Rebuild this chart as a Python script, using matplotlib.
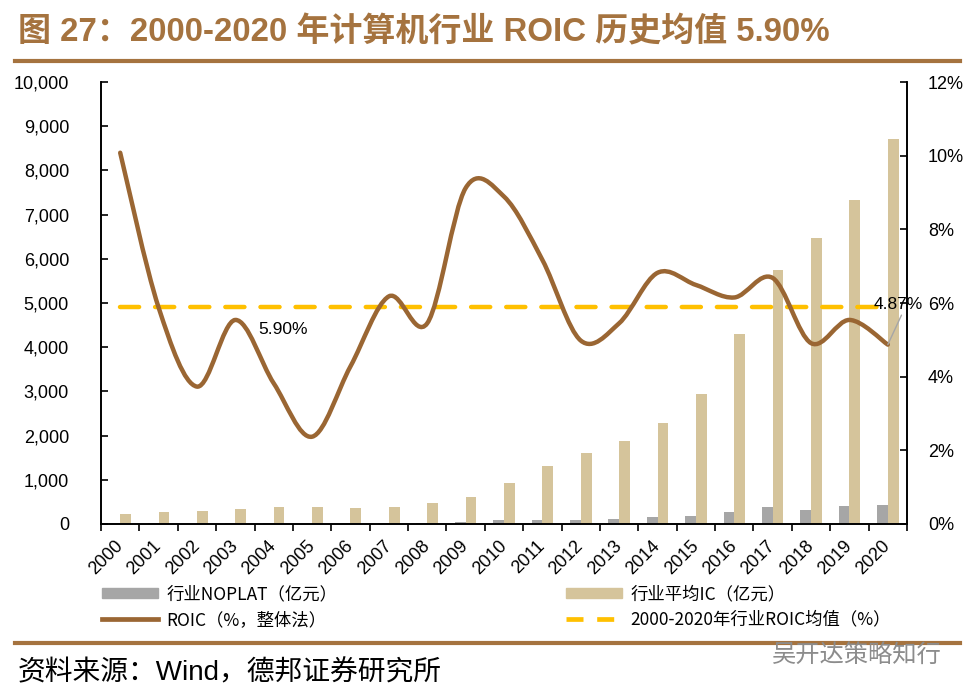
import numpy as np
import matplotlib
matplotlib.use("Agg")
import matplotlib.pyplot as plt
from matplotlib.path import Path
from matplotlib.patches import PathPatch, Patch
from matplotlib.lines import Line2D

plt.rcParams['font.family'] = ['Liberation Sans', 'Noto Sans CJK SC', 'DejaVu Sans']

years = [str(y) for y in range(2000, 2021)]
noplat = [22, 16, 11, 19, 14, 9, 16, 24, 26, 56, 82, 92, 80, 103, 157, 190, 262, 380, 318, 400, 425]
ic = [220, 270, 290, 340, 380, 380, 355, 395, 475, 605, 925, 1320, 1615, 1870, 2285, 2940, 4290, 5750, 6470, 7330, 8710]
roic = [10.08, 5.88, 3.73, 5.54, 3.82, 2.37, 4.28, 6.18, 5.45, 9.12, 8.89, 7.17, 4.98, 5.45, 6.82, 6.49, 6.15, 6.68, 4.91, 5.54, 4.87]
roic_mean = 5.90
left_ticks = [0, 1000, 2000, 3000, 4000, 5000, 6000, 7000, 8000, 9000, 10000]
right_ticks = [0, 2, 4, 6, 8, 10, 12]

title = "图 27：2000-2020 年计算机行业 ROIC 历史均值 5.90%"
source = "资料来源：Wind，德邦证券研究所"
watermark = "吴开达策略知行"
leg_labels = ["行业NOPLAT（亿元）", "ROIC（%，整体法）", "行业平均IC（亿元）", "2000-2020年行业ROIC均值（%）"]

C_GRAY = "#A6A6A6"
C_TAN = "#D5C49B"
C_BROWN = "#9A6633"
C_YEL = "#FFC000"
C_TITLE = "#A5733F"

fig = plt.figure(figsize=(9.71, 6.97), dpi=100)
ax = fig.add_axes([101/971, 1-524/697, (907-101)/971, (524-82)/697])
ax2 = ax.twinx()

x = np.arange(len(years))
w = 0.28
ax.bar(x - w/2, noplat, width=w, color=C_GRAY, zorder=2)
ax.bar(x + w/2, ic, width=w, color=C_TAN, zorder=2)

ax.set_xlim(-0.5, len(years) - 0.5)
ax.set_ylim(0, 10000)
ax2.set_ylim(0, 12)
ax.set_yticks(left_ticks)
ax.set_yticklabels([f"{v:,}" for v in left_ticks], fontsize=13)
ax2.set_yticks(right_ticks)
ax2.set_yticklabels([f"{v}%" for v in right_ticks], fontsize=13)
ax.tick_params(axis='y', direction='in', length=5, width=1.2, pad=23)
ax2.tick_params(axis='y', direction='in', length=5, width=1.2, pad=15)

ax.set_xticks(x)
ax.set_xticklabels(years, fontsize=13, rotation=45, ha='right', va='center', rotation_mode='anchor')
ax.set_xticks(np.arange(-0.5, len(years)), minor=True)
ax.tick_params(axis='x', which='major', length=0, pad=14)
ax.tick_params(axis='x', which='minor', direction='out', length=5, width=1.2)

for a in (ax, ax2):
    a.spines['top'].set_visible(False)
    for s in ('left', 'right', 'bottom'):
        a.spines[s].set_linewidth(1.2)
        a.spines[s].set_color('black')

# smoothed ROIC line (Bezier through the data points)
px = list(x.astype(float))
py = list(roic)
n = len(px)
verts = [(px[0], py[0])]
codes = [Path.MOVETO]
for i in range(n - 1):
    i0 = max(i - 1, 0)
    i3 = min(i + 2, n - 1)
    c1 = (px[i] + (px[i+1] - px[i0]) / 6, py[i] + (py[i+1] - py[i0]) / 6)
    c2 = (px[i+1] - (px[i3] - px[i]) / 6, py[i+1] - (py[i3] - py[i]) / 6)
    verts += [c1, c2, (px[i+1], py[i+1])]
    codes += [Path.CURVE4] * 3
ax2.add_patch(PathPatch(Path(verts, codes), facecolor='none', edgecolor=C_BROWN,
                        lw=3.2, capstyle='round', joinstyle='round', zorder=4))

ax2.plot([0, len(years) - 1], [roic_mean, roic_mean], color=C_YEL, lw=3.2,
         dashes=(4.3, 3.6), dash_capstyle='round', zorder=3)

ax2.text(3.6, 5.27, f"{roic_mean:.2f}%", fontsize=12.5, ha='left', va='center', zorder=5)
ax2.annotate(f"{roic[-1]:.2f}%", xy=(20, roic[-1]), xytext=(19.62, 5.95),
             fontsize=12.5, ha='left', va='center', zorder=5,
             arrowprops=dict(arrowstyle='-', color='#A6A6A6', lw=1,
                             shrinkA=0, shrinkB=0,
                             relpos=(0.6, 0.0)))

handles = [Patch(color=C_GRAY), Line2D([], [], color=C_BROWN, lw=3.4),
           Patch(color=C_TAN), Line2D([], [], color=C_YEL, lw=3.4, dashes=(3.6, 2.9))]
fig.legend(handles, leg_labels, ncol=2, loc='upper left',
           bbox_to_anchor=(95/971, 1-578/697), frameon=False,
           prop={'family': ['Noto Sans CJK SC', 'DejaVu Sans'], 'size': 12.5},
           handlelength=3.2, handleheight=0.55, handletextpad=0.5,
           columnspacing=13.2, labelspacing=0.45, borderaxespad=0)

fig.text(18/971, 1-32/697, title, fontsize=23.8, fontweight='bold', color=C_TITLE,
         ha='left', va='center', family=['Liberation Sans', 'Noto Sans CJK SC'])
fig.add_artist(Line2D([15/971, 960/971], [1-61/697, 1-61/697], color=C_TITLE, lw=3))
fig.add_artist(Line2D([15/971, 960/971], [1-643/697, 1-643/697], color=C_TITLE, lw=3))
fig.text(18/971, 1-673/697, source, fontsize=20, ha='left', va='center',
         family=['Liberation Sans', 'Noto Sans CJK SC'])
fig.text(772/971, 1-655/697, watermark, fontsize=17.5, ha='left', va='center',
         color='#8C8C8C', family=['Noto Sans CJK SC'])

fig.savefig("out.png", dpi=100)
